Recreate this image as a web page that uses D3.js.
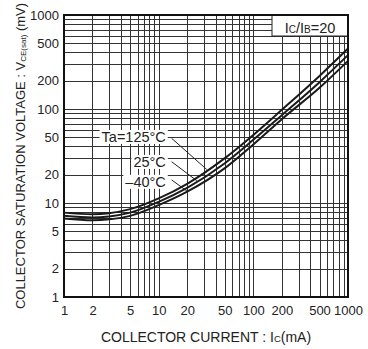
<!DOCTYPE html>
<html>
<head>
<meta charset="utf-8">
<script src="https://cdn.jsdelivr.net/npm/d3@7"></script>
<style>
  body { margin: 0; background: #fff; }
  svg { display: block; font-family: "Liberation Sans", Arial, sans-serif; }
</style>
</head>
<body>
<svg id="chart"></svg>
<script>
// VCE(sat) vs IC, three ambient temperatures, log-log grid

const width = 368;
const height = 349;
const margin = { top: 15, right: 20, bottom: 52, left: 64 };

// collector current (mA)
const currents = [1, 2, 3, 5, 10, 20, 50, 100, 200, 500, 1000];
// saturation voltage (mV) per temperature
const vsat125 = [7.9, 7.6, 7.8, 8.6, 11.2, 16, 30, 53, 98, 225, 440];
const vsat25 = [7.3, 7.0, 7.2, 7.9, 10.3, 14.5, 26.5, 47, 86, 193, 375];
const vsatM40 = [6.85, 6.55, 6.7, 7.3, 9.5, 13.2, 23.5, 42, 78, 168, 325];

const xTickValues = [1, 2, 5, 10, 20, 50, 100, 200, 500, 1000];
const yTickValues = [1, 2, 5, 10, 20, 50, 100, 200, 500, 1000];

// label text, label anchor (I, V), leader start (I, V), leader end current
const labelTexts = ["Ta=125°C", "25°C", "\u201340°C"];
const labelCurrents = [11.9, 11.9, 11.9];
const labelVoltages = [50.7, 27.5, 16.9];
const leaderStartCurrents = [13.7, 13.7, 13.7];
const leaderStartVoltages = [48.8, 27.5, 17.6];
const leaderEndCurrents = [32.2, 25.2, 19.8];

const series = [vsat125, vsat25, vsatM40];

const svg = d3.select("#chart").attr("width", width).attr("height", height);

const xScale = d3
  .scaleLog()
  .domain([1, 1000])
  .range([margin.left, width - margin.right]);

const yScale = d3
  .scaleLog()
  .domain([1, 1000])
  .range([height - margin.bottom, margin.top]);

const x0 = xScale.range()[0];
const x1 = xScale.range()[1];
const y0 = yScale.range()[0];
const y1 = yScale.range()[1];

// grid, every 1..9 of each decade
const grid = svg.append("g").attr("shape-rendering", "crispEdges");
grid
  .selectAll(".vgrid")
  .data(xScale.ticks())
  .enter()
  .append("line")
  .attr("x1", (d) => Math.round(xScale(d)) + 0.5)
  .attr("x2", (d) => Math.round(xScale(d)) + 0.5)
  .attr("y1", y1)
  .attr("y2", y0)
  .attr("stroke", "#333")
  .attr("stroke-width", 1);
grid
  .selectAll(".hgrid")
  .data(yScale.ticks())
  .enter()
  .append("line")
  .attr("y1", (d) => Math.round(yScale(d)) + 0.5)
  .attr("y2", (d) => Math.round(yScale(d)) + 0.5)
  .attr("x1", x0)
  .attr("x2", x1)
  .attr("stroke", "#333")
  .attr("stroke-width", 1);

// IC/IB box
const boxX = 272;
svg
  .append("rect")
  .attr("x", boxX)
  .attr("y", y1)
  .attr("width", x1 - boxX)
  .attr("height", 21)
  .attr("fill", "#fff")
  .attr("stroke", "#222")
  .attr("stroke-width", 1);
const boxText = svg
  .append("text")
  .attr("x", (boxX + x1) / 2)
  .attr("y", 33)
  .attr("text-anchor", "middle")
  .attr("font-size", 14.5)
  .attr("fill", "#222");
boxText.append("tspan").text("I");
boxText.append("tspan").attr("font-size", 10).text("C");
boxText.append("tspan").text("/I");
boxText.append("tspan").attr("font-size", 10).text("B");
boxText.append("tspan").text("=20");

// interpolate a series in log-log space
const valueAt = (values, current) => {
  const lc = Math.log10(current);
  for (let i = 0; i < currents.length - 1; i++) {
    const a = Math.log10(currents[i]);
    const b = Math.log10(currents[i + 1]);
    if (lc >= a && lc <= b) {
      const t = (lc - a) / (b - a);
      return Math.pow(10, Math.log10(values[i]) * (1 - t) + Math.log10(values[i + 1]) * t);
    }
  }
  return values[values.length - 1];
};

// labels with white backing and leader lines
const labels = svg.append("g");
labelTexts.forEach((txt, i) => {
  const g = labels.append("g");
  const t = g
    .append("text")
    .attr("x", xScale(labelCurrents[i]))
    .attr("y", yScale(labelVoltages[i]))
    .attr("dy", "0.36em")
    .attr("text-anchor", "end")
    .attr("font-size", 14.5)
    .attr("fill", "#222")
    .text(txt);
  const bb = t.node().getBBox();
  g.insert("rect", "text")
    .attr("x", bb.x - 2)
    .attr("y", bb.y + 1)
    .attr("width", bb.width + 4)
    .attr("height", bb.height - 2)
    .attr("fill", "#fff");
  g.append("line")
    .attr("x1", xScale(leaderStartCurrents[i]))
    .attr("y1", yScale(leaderStartVoltages[i]))
    .attr("x2", xScale(leaderEndCurrents[i]))
    .attr("y2", yScale(valueAt(series[i], leaderEndCurrents[i])) - 1)
    .attr("stroke", "#222")
    .attr("stroke-width", 1);
});

// curves
const line = d3
  .line()
  .x((d) => xScale(d[0]))
  .y((d) => yScale(d[1]))
  .curve(d3.curveMonotoneX);

series.forEach((values) => {
  svg
    .append("path")
    .datum(currents.map((c, i) => [c, values[i]]))
    .attr("d", line)
    .attr("fill", "none")
    .attr("stroke", "#1a1a1a")
    .attr("stroke-width", 2);
});

// frame
svg
  .append("rect")
  .attr("x", x0)
  .attr("y", y1)
  .attr("width", x1 - x0)
  .attr("height", y0 - y1)
  .attr("fill", "none")
  .attr("stroke", "#111")
  .attr("stroke-width", 2);

// tick labels
const xAxis = d3
  .axisBottom(xScale)
  .tickValues(xTickValues)
  .tickFormat(d3.format("d"))
  .tickSize(0)
  .tickPadding(9);
const yAxis = d3
  .axisLeft(yScale)
  .tickValues(yTickValues)
  .tickFormat(d3.format("d"))
  .tickSize(0)
  .tickPadding(5);

svg
  .append("g")
  .attr("transform", "translate(0," + y0 + ")")
  .call(xAxis)
  .call((g) => g.select(".domain").remove())
  .selectAll("text")
  .attr("font-size", 13)
  .attr("font-family", "Liberation Sans, Arial, sans-serif")
  .attr("fill", "#222");

svg
  .append("g")
  .attr("transform", "translate(" + x0 + ",0)")
  .call(yAxis)
  .call((g) => g.select(".domain").remove())
  .selectAll("text")
  .attr("font-size", 13)
  .attr("font-family", "Liberation Sans, Arial, sans-serif")
  .attr("fill", "#222");

// axis titles
const xTitle = svg
  .append("text")
  .attr("x", (x0 + x1) / 2)
  .attr("y", 342)
  .attr("text-anchor", "middle")
  .attr("font-size", 14)
  .attr("fill", "#222");
xTitle.append("tspan").text("COLLECTOR CURRENT : I");
xTitle.append("tspan").attr("font-size", 9.5).text("C");
xTitle.append("tspan").text("(mA)");

const yTitle = svg
  .append("text")
  .attr("transform", "translate(25," + (y0 + y1) / 2 + ") rotate(-90)")
  .attr("text-anchor", "middle")
  .attr("font-size", 13)
  .attr("fill", "#222");
yTitle.append("tspan").text("COLLECTOR SATURATION VOLTAGE : V");
yTitle.append("tspan").attr("font-size", 8).attr("dy", 1).text("CE(sat)");
yTitle.append("tspan").attr("dy", -1).text(" (mV)");
</script>
</body>
</html>
